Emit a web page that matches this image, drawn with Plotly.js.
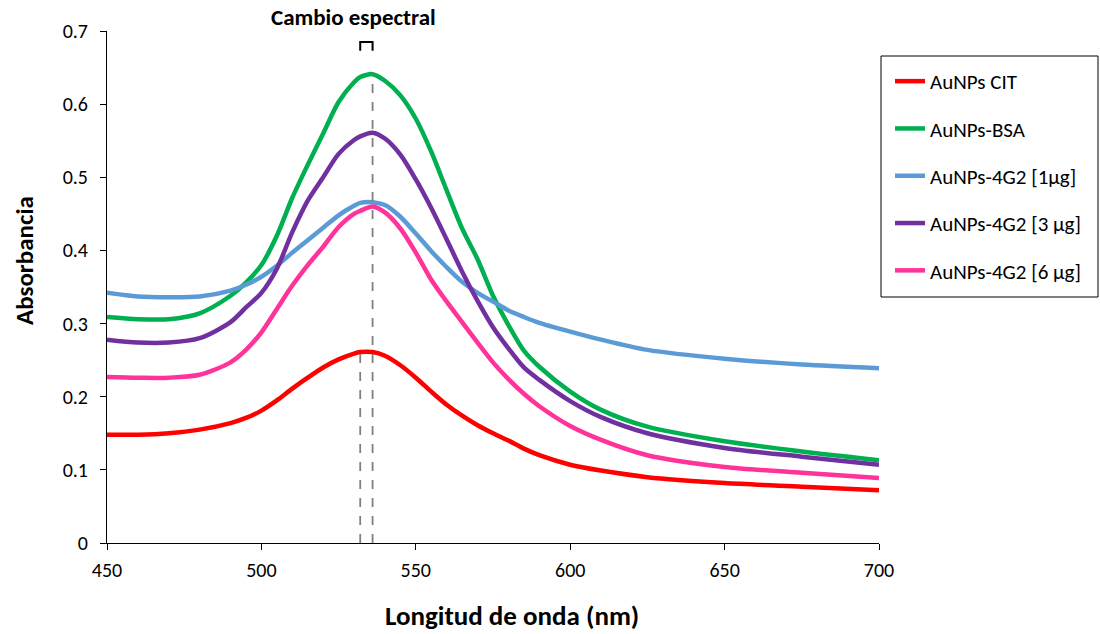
<!DOCTYPE html>
<html>
<head>
<meta charset="utf-8">
<script src="https://cdn.plot.ly/plotly-3.0.1.min.js"></script>
<style>html,body{margin:0;padding:0;background:#fff;}#chart{width:1100px;height:634px;}</style>
</head>
<body>
<div id="chart"></div>
<script>
const wavelength = [450,460,470,480,490,495,500,505,510,515,520,525,530,532,536,540,545,550,555,560,565,570,575,580,585,590,600,610,625,650,675,700];

const seriesNames = ["AuNPs CIT","AuNPs-BSA","AuNPs-4G2 [1µg]","AuNPs-4G2 [3 µg]","AuNPs-4G2 [6 µg]"];

const cit = [0.148,0.148,0.150,0.155,0.164,0.171,0.181,0.195,0.211,0.226,0.240,0.251,0.259,0.261,0.261,0.256,0.243,0.226,0.207,0.189,0.174,0.161,0.150,0.140,0.129,0.120,0.107,0.099,0.090,0.082,0.077,0.072];
const bsa = [0.309,0.306,0.306,0.314,0.338,0.356,0.380,0.420,0.472,0.517,0.560,0.603,0.630,0.637,0.641,0.632,0.612,0.580,0.535,0.482,0.430,0.388,0.338,0.298,0.263,0.241,0.207,0.182,0.159,0.139,0.125,0.113];
const g1 = [0.342,0.337,0.336,0.337,0.345,0.353,0.364,0.379,0.397,0.414,0.431,0.448,0.461,0.465,0.466,0.462,0.446,0.423,0.399,0.377,0.357,0.342,0.330,0.318,0.309,0.301,0.289,0.278,0.264,0.252,0.244,0.239];
const g3 = [0.278,0.274,0.274,0.280,0.302,0.322,0.342,0.375,0.425,0.468,0.500,0.532,0.551,0.556,0.561,0.553,0.531,0.497,0.458,0.415,0.371,0.331,0.295,0.266,0.240,0.223,0.194,0.172,0.150,0.130,0.118,0.107];
const g6 = [0.227,0.226,0.226,0.230,0.247,0.264,0.288,0.320,0.352,0.380,0.405,0.432,0.450,0.454,0.460,0.452,0.430,0.397,0.360,0.330,0.302,0.274,0.247,0.224,0.204,0.187,0.160,0.141,0.120,0.104,0.096,0.089];

const seriesValues = [cit,bsa,g1,g3,g6];
const seriesColors = ["#FF0000","#00B050","#5B9BD5","#7030A0","#FF3399"];

// spectral shift markers (peak wavelengths and peak heights)
const peakX = [532, 536];
const peakY = [0.262, 0.641];

const xTicks = [450,500,550,600,650,700];
const yTicks = [0,0.1,0.2,0.3,0.4,0.5,0.6,0.7];
const yTickText = ["0","0.1","0.2","0.3","0.4","0.5","0.6","0.7"];

const FONT = "Carlito, Lato, 'Open Sans', sans-serif";

const traces = seriesNames.map((n,i)=>({
  type:'scatter', mode:'lines', name:n,
  x: wavelength, y: seriesValues[i],
  line:{color:seriesColors[i], width:4.5, shape:'spline', smoothing:0.8},
  legendgroup:'g'+i
}));

const shapes = peakX.map((px,i)=>({
  type:'line', xref:'x', yref:'y', x0:px, x1:px, y0:0, y1:peakY[i],
  line:{color:'#808080', width:1.8, dash:'dash'}, layer:'above'
}));
shapes.push({
  type:'path', xref:'x', yref:'y',
  path:`M ${peakX[0]},0.673 L ${peakX[0]},0.685 L ${peakX[1]},0.685 L ${peakX[1]},0.673`,
  line:{color:'#000', width:2}
});
// legend frame
shapes.push({
  type:'rect', xref:'paper', yref:'paper',
  x0:(881-107)/772, x1:(1098-107)/772, y0:(543-297)/512, y1:(543-56)/512,
  line:{color:'#000', width:1}, fillcolor:'rgba(0,0,0,0)'
});

const layout = {
  width:1100, height:634,
  margin:{l:107, r:221, t:31, b:91},
  paper_bgcolor:'#fff', plot_bgcolor:'#fff',
  font:{family:FONT, size:20, color:'#000'},
  showlegend:true,
  legend:{x:(890-107)/772, y:(543-61)/512, xanchor:'left', yanchor:'top',
    bgcolor:'rgba(0,0,0,0)', borderwidth:0, font:{family:FONT, size:21, color:'#000'},
    tracegroupgap:17, itemwidth:30},
  xaxis:{range:[450,700], tickvals:xTicks, ticks:'outside', ticklen:6, tickcolor:'#000',
    showline:true, linecolor:'#000', linewidth:1, showgrid:false, zeroline:false,
    tickfont:{family:FONT, size:20, color:'#000'}, ticklabelstandoff:3},
  yaxis:{range:[0,0.7], tickvals:yTicks, ticktext:yTickText, ticks:'outside', ticklen:6, tickcolor:'#000',
    showline:true, linecolor:'#000', linewidth:1, showgrid:false, zeroline:false,
    tickfont:{family:FONT, size:20, color:'#000'}, ticklabelstandoff:8},
  shapes:shapes,
  annotations:[
    {text:'<b>Longitud de onda (nm)</b>', xref:'paper', yref:'paper', x:(512-107)/772, y:(543-615)/512,
      xanchor:'center', yanchor:'middle', showarrow:false, font:{family:FONT, size:27, color:'#000'}},
    {text:'<b>Absorbancia</b>', xref:'paper', yref:'paper', x:(24-107)/772, y:(543-261)/512,
      xanchor:'center', yanchor:'middle', showarrow:false, textangle:-90, font:{family:FONT, size:25, color:'#000'}},
    {text:'<b>Cambio espectral</b>', xref:'paper', yref:'paper', x:(353-107)/772, y:(543-17)/512,
      xanchor:'center', yanchor:'middle', showarrow:false, font:{family:FONT, size:23, color:'#000'}}
  ]
};

Plotly.newPlot('chart', traces, layout, {staticPlot:true, displayModeBar:false});
</script>
</body>
</html>
